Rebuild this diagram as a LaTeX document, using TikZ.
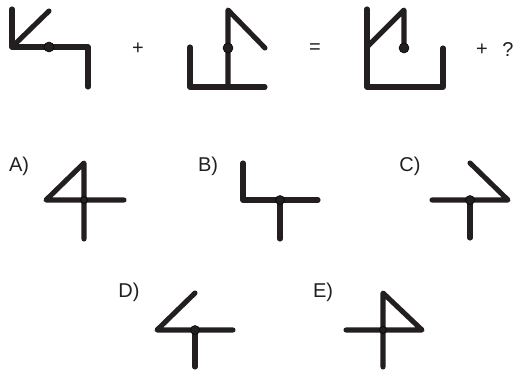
\documentclass[tikz,border=0pt]{standalone}
\usepackage{fontspec}
\setmainfont{Liberation Sans}
\usepackage{xcolor}

\tikzset{
  stroke/.style={line width=3.8pt, line cap=round, line join=round, color={rgb, 255:red, 35; green, 31; blue, 32}},
  joint/.style={fill={rgb, 255:red, 35; green, 31; blue, 32}},
  lbl/.style={inner sep=0.75pt, font=\fontsize{15}{18}\selectfont, text={rgb, 255:red, 35; green, 31; blue, 32}}
}

\begin{document}
\begin{tikzpicture}[x=0.75pt,y=0.75pt,yscale=-1,xscale=1]
\useasboundingbox (0,0) rectangle (517,370);

%Figure 1
\draw [stroke] (12,9) -- (12,47) -- (88,47) -- (88,87) ;
\draw [stroke] (49,11) -- (12,47) ;
\draw [joint] (49,47) circle (5) ;
% Text Node
\draw (138,49) node [lbl] (plus1) {+};

%Figure 2
\draw [stroke] (190,47) -- (190,87) -- (265,87) ;
\draw [stroke] (228,87) -- (228,10) -- (265,48) ;
\draw [joint] (228,48) circle (5) ;
% Text Node
\draw (315,49) node [lbl] (eq) {=};

%Figure 3
\draw [stroke] (367,9) -- (367,87) -- (443,87) -- (443,48) ;
\draw [stroke] (367,47) -- (404,10) -- (404,48) ;
\draw [joint] (404,48) circle (5) ;
% Text Node
\draw (482,50) node [lbl] (plus2) {+};
% Text Node
\draw (508,50) node [lbl] (ask) {?};

%Option A
\draw [stroke] (124,200) -- (46,200) -- (84,163) -- (84,239) ;
\draw [joint] (84,200) circle (3.5) ;
\draw (19,166) node [lbl] (optA) {A)};

%Option B
\draw [stroke] (243,163) -- (243,200) -- (318,200) ;
\draw [stroke] (280,200) -- (280,239) ;
\draw [joint] (280,200) circle (4.5) ;
\draw (208,166) node [lbl] (optB) {B)};

%Option C
\draw [stroke] (470,163) -- (508,200) -- (432,200) ;
\draw [stroke] (470,200) -- (470,238) ;
\draw [joint] (470,200) circle (4.5) ;
\draw (410,166) node [lbl] (optC) {C)};

%Option D
\draw [stroke] (195,293) -- (157,330) -- (233,330) ;
\draw [stroke] (195,330) -- (195,367) ;
\draw [joint] (195,330) circle (4.5) ;
\draw (129,292) node [lbl] (optD) {D)};

%Option E
\draw [stroke] (346,330) -- (422,330) -- (383,293) -- (383,367) ;
\draw [joint] (383,330) circle (3.5) ;
\draw (323,292) node [lbl] (optE) {E)};

\end{tikzpicture}
\end{document}
